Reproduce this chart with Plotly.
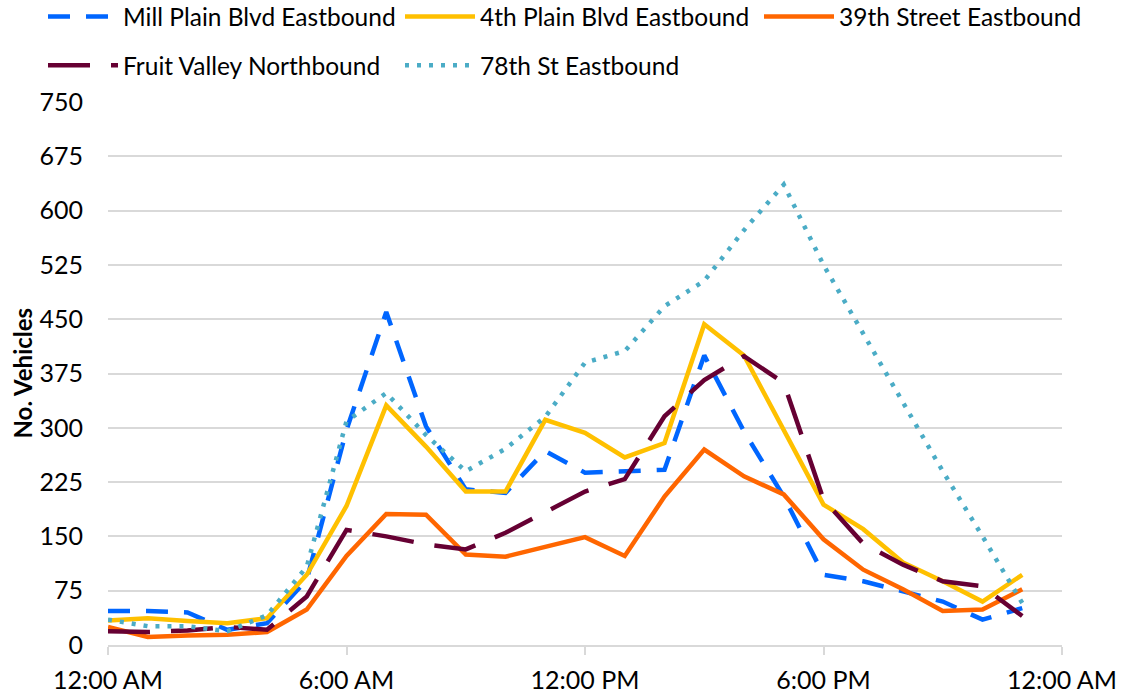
import plotly.graph_objects as go

hours = list(range(24))
tick_vals = [0, 6, 12, 18, 24]
tick_text = ["12:00 AM", "6:00 AM", "12:00 PM", "6:00 PM", "12:00 AM"]

mill_plain = [47, 47, 45, 21, 30, 90, 297, 460, 302, 215, 210, 268, 238, 240, 242, 400, 295, 205, 97, 88, 74, 60, 35, 51]
fourth_plain = [34, 37, 33, 30, 37, 97, 192, 331, 274, 212, 212, 311, 293, 259, 279, 443, 400, 298, 194, 160, 114, 88, 60, 97]
street_39th = [25, 11, 13, 14, 18, 49, 123, 181, 180, 125, 122, 136, 149, 123, 205, 270, 233, 208, 146, 104, 77, 47, 49, 77]
fruit_valley = [19, 18, 20, 25, 21, 67, 159, 150, 139, 132, 155, 183, 212, 229, 316, 366, 399, 362, 201, 140, 111, 88, 81, 40]
st_78th = [35, 26, 26, 19, 41, 108, 309, 348, 290, 240, 271, 315, 390, 406, 468, 503, 573, 636, 525, 430, 335, 240, 150, 58]

names = ["Mill Plain Blvd Eastbound", "4th Plain Blvd Eastbound", "39th Street Eastbound",
         "Fruit Valley Northbound", "78th St Eastbound"]
values = [mill_plain, fourth_plain, street_39th, fruit_valley, st_78th]
colors = ["#0066FF", "#FFC000", "#FF6600", "#660033", "#4BACC6"]
dashes = ["22px,16px", "solid", "solid", "42px,21px", "4px,8px"]
legends = ["legend", "legend2", "legend3", "legend", "legend2"]

FONT = "Lato"
fig = go.Figure()
for i, (n, v, c, d, lg) in enumerate(zip(names, values, colors, dashes, legends)):
    fig.add_trace(go.Scatter(
        x=hours, y=v, name=n, mode="lines",
        line=dict(color=c, width=4.5, dash=d),
        legend=lg, legendgroup=f"g{i}",
    ))

W, H = 1131, 694
ml, mr, mt, mb = 108, 69, 102, 49
pw = W - ml - mr
ph = H - mt - mb


def lx(px):
    return (px - ml) / pw


def ly(py):
    return 1 + (mt - py) / ph


leg_common = dict(
    orientation="v", xanchor="left", yanchor="top",
    bgcolor="rgba(0,0,0,0)", borderwidth=0,
    font=dict(family=FONT, size=24.5, color="#000000"),
    itemwidth=70, tracegroupgap=14, traceorder="grouped",
)

fig.update_layout(
    width=W, height=H,
    margin=dict(l=ml, r=mr, t=mt, b=mb, autoexpand=False),
    paper_bgcolor="white", plot_bgcolor="white",
    font=dict(family=FONT, size=25, color="#000000"),
    legend=dict(x=lx(124 - 81), y=ly(-6), **leg_common),
    legend2=dict(x=lx(481 - 81), y=ly(-6), **leg_common),
    legend3=dict(x=lx(840 - 81), y=ly(-6), **leg_common),
    xaxis=dict(
        range=[0, 24], tickvals=tick_vals, ticktext=tick_text,
        showgrid=False, zeroline=False,
        showline=True, linecolor="#d9d9d9", linewidth=1.5,
        ticks="outside", ticklen=8, tickwidth=1.5, tickcolor="#d9d9d9",
        ticklabelstandoff=4,
        tickfont=dict(family=FONT, size=25, color="#000000"),
    ),
    yaxis=dict(
        range=[0, 750], dtick=75, tick0=0,
        showgrid=True, gridcolor="#d9d9d9", gridwidth=1.5,
        zeroline=False, showline=False, ticks="",
        ticklabelstandoff=24,
        tickfont=dict(family=FONT, size=25, color="#000000"),
    ),
    annotations=[dict(
        text="<b>No. Vehicles</b>", textangle=-90,
        xref="paper", yref="paper", x=lx(22), y=0.5,
        xanchor="center", yanchor="middle", showarrow=False,
        font=dict(family=FONT, size=24, color="#000000"),
    )],
)

fig.write_html("out.html", config={"displayModeBar": False},
               post_script="document.body.style.margin='0';")
